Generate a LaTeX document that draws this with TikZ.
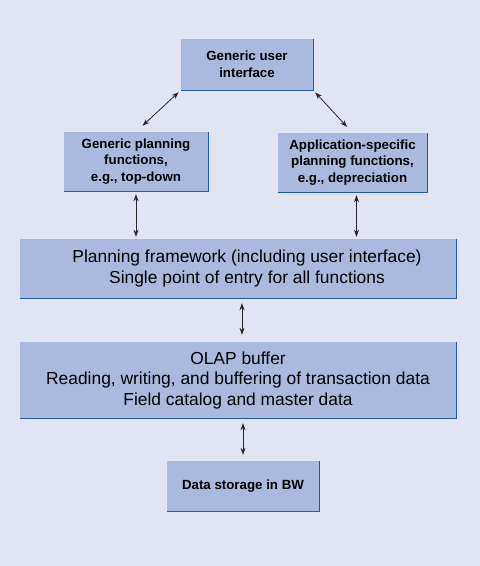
\documentclass[tikz,border=0pt]{standalone}
\usepackage{fontspec}
\setmainfont{Liberation Sans}
\usepackage{xcolor}
\usetikzlibrary{arrows.meta,positioning,calc}

\definecolor{bgpanel}{RGB}{225,228,242}
\definecolor{boxfill}{RGB}{170,185,222}
\definecolor{boxedge}{RGB}{38,88,170}

\tikzset{
    smallbox/.style={fill=boxfill, align=center, inner sep=0pt,
        font=\fontsize{13.3}{16.7}\selectfont\bfseries},
    bigbox/.style={fill=boxfill, align=center, inner sep=0pt,
        font=\fontsize{17.4}{20.5}\selectfont},
    edgeline/.style={boxedge, line width=1.4pt},
    link/.style={line width=0.8pt, black!85, {Stealth[length=7pt,width=5pt]}-{Stealth[length=7pt,width=5pt]}}
}

\begin{document}
\begin{tikzpicture}[x=1pt, y=-1pt]
    % Background panel
    \fill[bgpanel] (0,0) rectangle (480,566);
    \useasboundingbox (0,0) rectangle (480,566);

    % Boxes
    \node[smallbox, minimum width=132pt, minimum height=51pt] (gui) at (247,64.5) {Generic user\\interface};
    \node[smallbox, minimum width=144pt, minimum height=59pt] (gen) at (136,161.5) {Generic planning\\functions,\\e.g., top-down};
    \node[smallbox, minimum width=149pt, minimum height=59pt] (app) at (352.5,162.5) {Application-specific\\planning functions,\\e.g., depreciation};
    \node[bigbox, minimum width=436pt, minimum height=59pt] (frame) at (238,268.5) {\hspace*{18pt}Planning framework (including user interface)\\\hspace*{18pt}Single point of entry for all functions};
    \node[bigbox, minimum width=436pt, minimum height=76pt] (olap) at (238,380) {OLAP buffer\\Reading, writing, and buffering of transaction data\\Field catalog and master data};
    \node[smallbox, minimum width=152pt, minimum height=50pt] (store) at (243,486) {Data storage in BW};

    % Blue lower and right edges
    \foreach \n in {gui,gen,app,frame,olap,store}
        \draw[edgeline] (\n.north east) -- (\n.south east) -- (\n.south west);

    % Connectors
    \draw[link, shorten <=3pt, shorten >=9pt] (gui.south west) -- (gen.north);
    \draw[link, shorten <=3pt, shorten >=8pt] (gui.south east) -- (app.north);
    \draw[link, shorten <=3pt, shorten >=2pt] (gen.south) -- (gen.south |- frame.north);
    \draw[link, shorten <=3pt, shorten >=2pt] ($(app.south)+(4,0)$) coordinate (appfoot) -- (appfoot |- frame.north);
    \draw[link, shorten <=5pt, shorten >=7pt] ($(frame.south)+(4,0)$) coordinate (framefoot) -- (framefoot |- olap.north);
    \draw[link, shorten <=5pt, shorten >=6pt] (store.north |- olap.south) -- (store.north);
\end{tikzpicture}
\end{document}
